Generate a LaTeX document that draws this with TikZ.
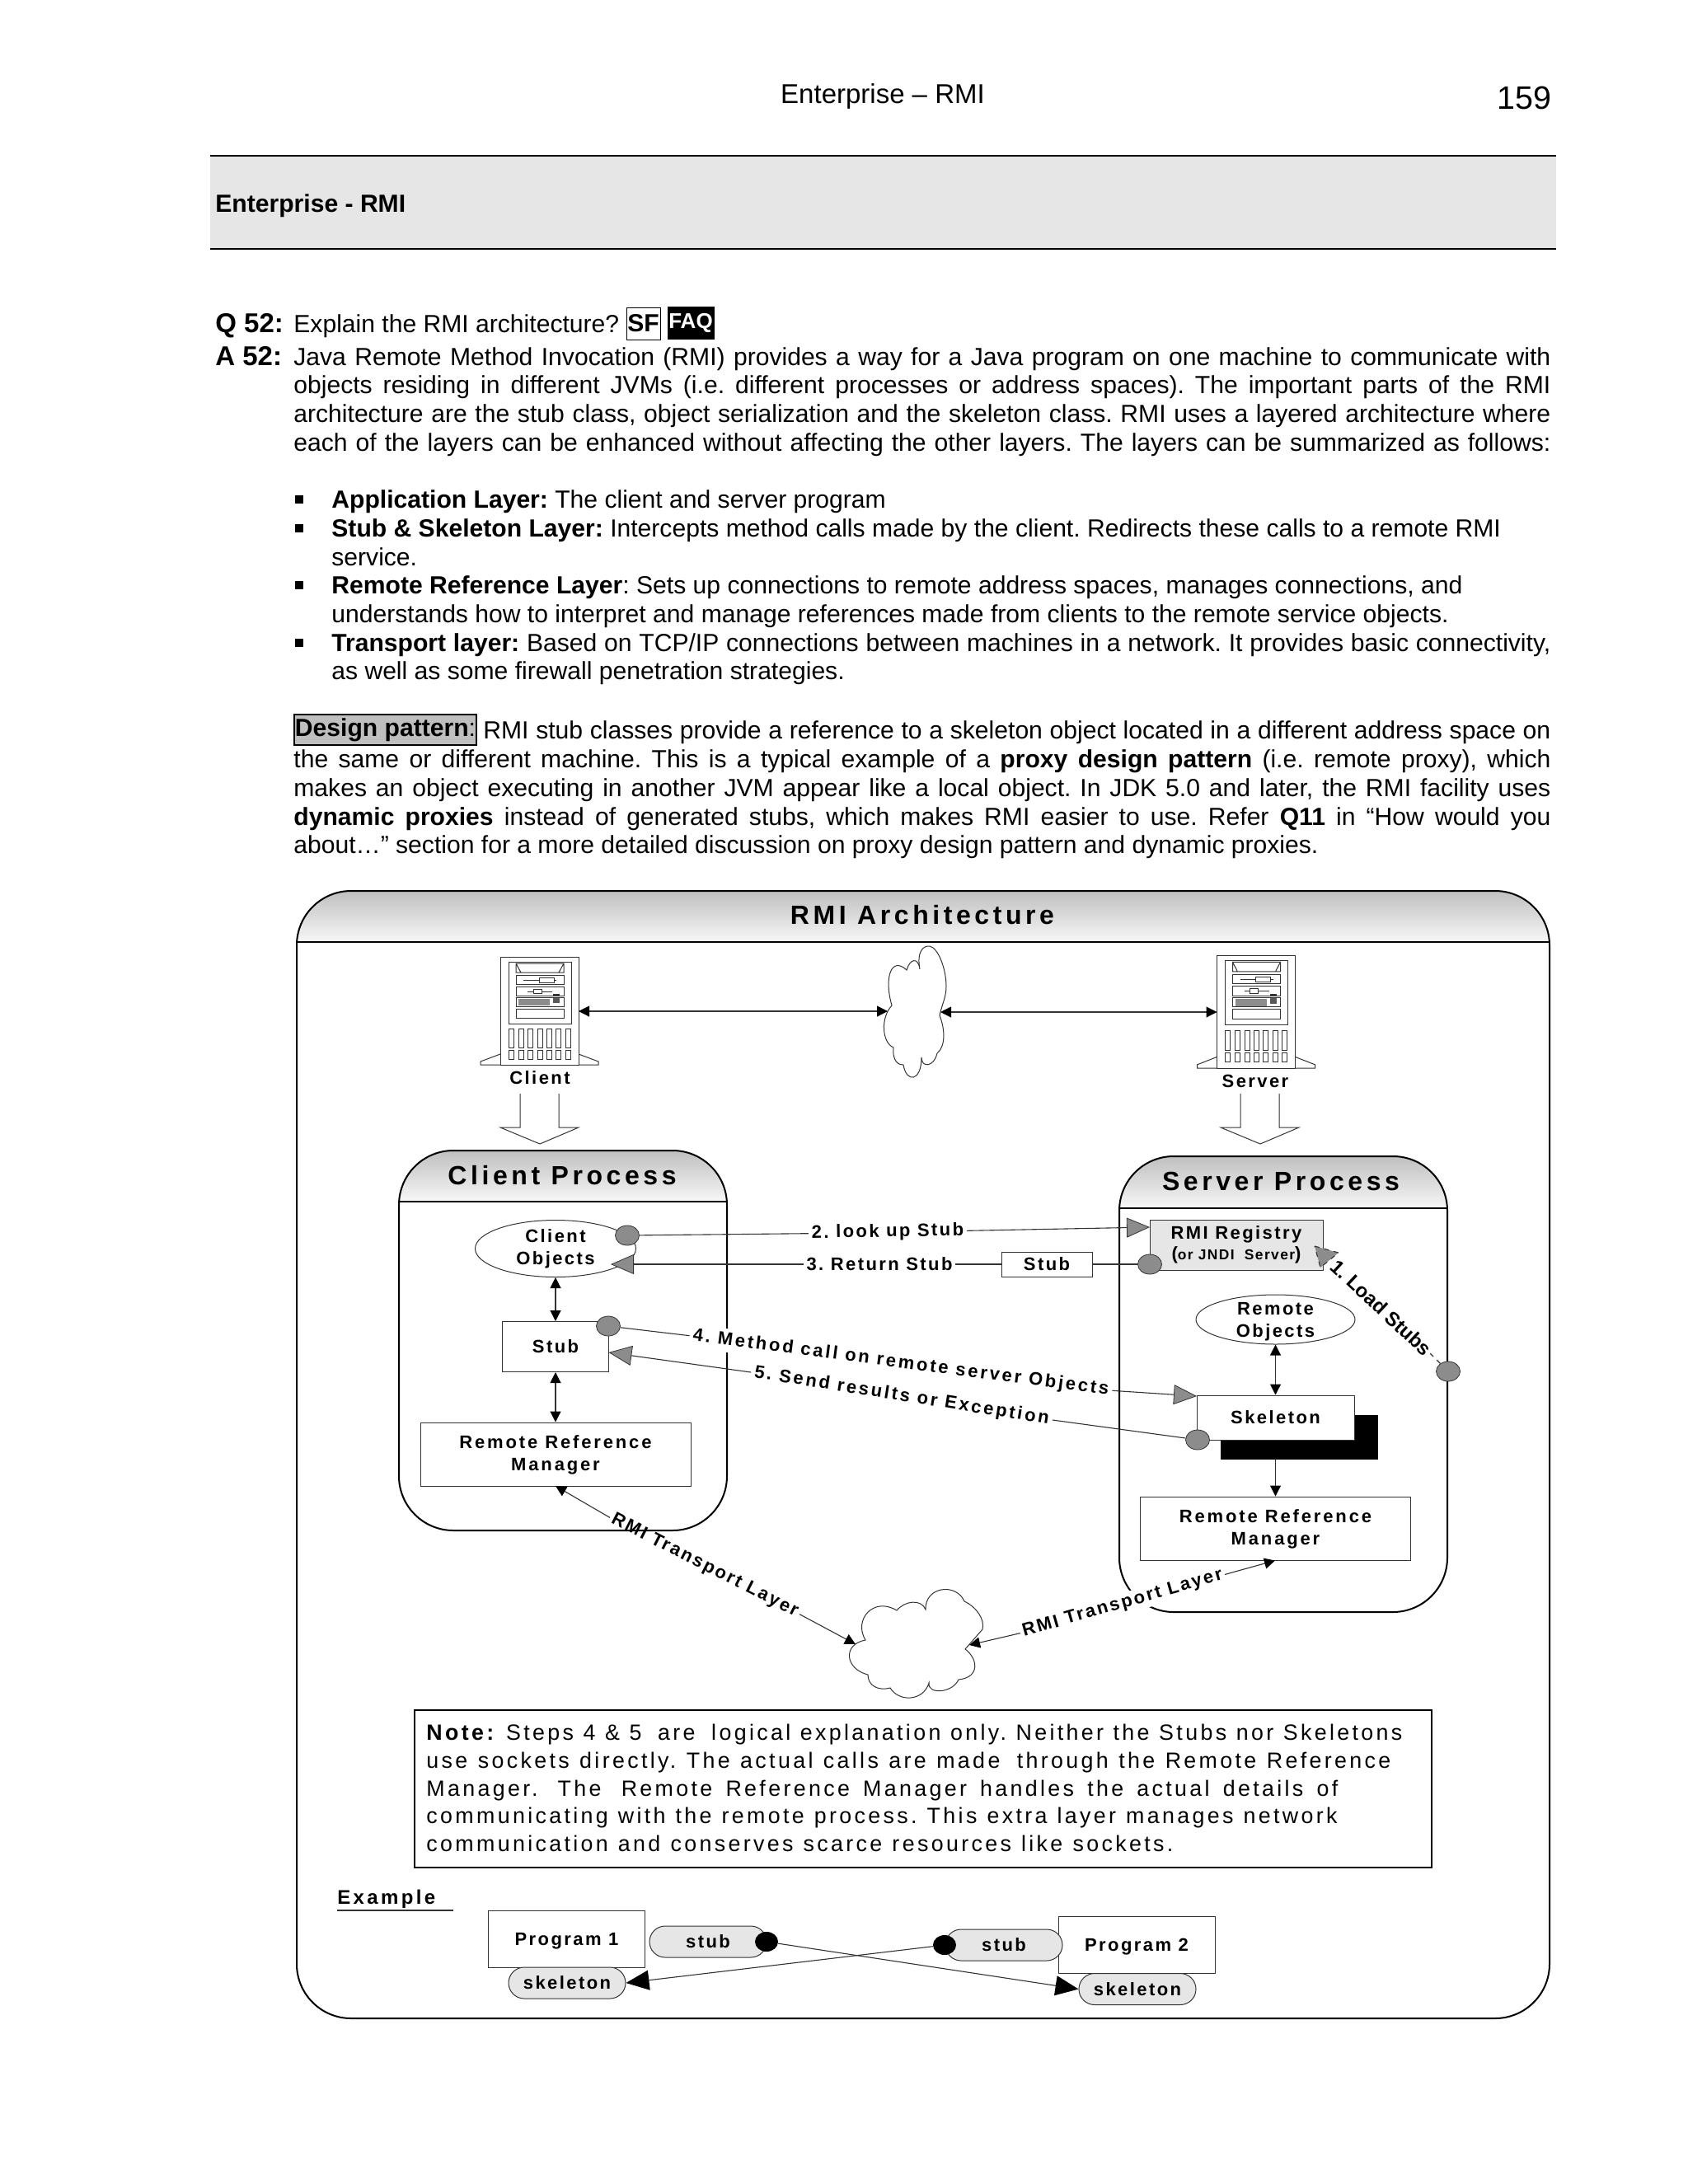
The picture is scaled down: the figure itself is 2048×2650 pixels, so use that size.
\documentclass[tikz,border=0pt]{standalone}
\usepackage{fontspec}
\usetikzlibrary{shapes.geometric,arrows.meta}
\setmainfont{Liberation Sans}
\newfontfamily\spA[LetterSpace=11]{Liberation Sans}
\newfontfamily\spB[LetterSpace=13]{Liberation Sans}
\newfontfamily\spC[LetterSpace=14.3]{Liberation Sans}
\newfontfamily\spD[LetterSpace=14]{Liberation Sans}
\newfontfamily\spN[LetterSpace=12.5]{Liberation Sans}
\newfontfamily\spS[LetterSpace=8]{Liberation Sans}
\definecolor{lgray}{HTML}{E6E6E6}
\definecolor{mgray}{HTML}{8C8C8C}
\definecolor{bgray}{HTML}{BFBFBF}
\definecolor{ink}{HTML}{333333}
\frenchspacing
\newcommand\bodyf{\fontsize{15.05}{17}\selectfont}
\newcommand\jl[4]{\node[anchor=base west,inner sep=0pt] (#1) at (#2,#3) {\bodyf\makebox[\dimexpr (1881pt-#2pt)/2\relax][s]{#4}};}
\newcommand\tl[4]{\node[anchor=base west,inner sep=0pt] (#1) at (#2,#3) {\bodyf #4};}
\newcommand\bul[2]{\node[fill=black,inner sep=0pt,minimum size=5pt] (#1) at (363,#2) {};}
\newcommand\nl[4]{\node[anchor=base west,inner sep=0pt,font=\spN\fontsize{13.4}{15}\selectfont] (#1) at (517,#2) {\makebox[#3pt][s]{#4}};}
\newcommand\cloudA{(1082,1220) .. controls (1072,1185) and (1082,1160) .. (1100,1177) .. controls (1104,1163) and (1114,1161) .. (1116,1176) .. controls (1112,1155) and (1120,1147) .. (1128,1148) .. controls (1138,1150) and (1148,1175) .. (1148,1197) .. controls (1148,1210) and (1143,1218) .. (1140,1232) .. controls (1147,1250) and (1147,1270) .. (1137,1278) .. controls (1133,1295) and (1118,1296) .. (1118,1283) .. controls (1118,1312) and (1100,1315) .. (1096,1292) .. controls (1085,1292) and (1083,1280) .. (1084,1271) .. controls (1070,1265) and (1068,1235) .. (1082,1220) -- cycle}
\newcommand\cloudB{(1050,1990) .. controls (1035,1965) and (1060,1937) .. (1088,1954) .. controls (1098,1942) and (1118,1940) .. (1123,1953) .. controls (1122,1925) and (1160,1920) .. (1170,1943) .. controls (1185,1950) and (1195,1965) .. (1192,1977) -- (1171,2001) .. controls (1186,2012) and (1190,2035) .. (1163,2038) .. controls (1155,2055) and (1125,2056) .. (1127,2042) .. controls (1120,2065) and (1090,2065) .. (1080,2048) .. controls (1065,2052) and (1053,2045) .. (1053,2032) .. controls (1025,2025) and (1022,1995) .. (1050,1990) -- cycle}
\newcommand\tower{%
  \draw[thin0,fill=white] (0,118) -- (-24,127) -- (-24,131) -- (119,131) -- (119,127) -- (95,118) -- cycle;
  \draw[thin0,fill=white] (0,0) rectangle (95,131);
  \draw[thin0] (10,6) rectangle (86,81);
  \draw[thin0] (19,8) rectangle (77,19) (19,8) -- (25,19) -- (71,19) -- (77,8);
  \draw[thin0] (19,22) rectangle (77,33) (28,28) -- (68,28);
  \draw[thin0,fill=white] (47,25) rectangle (65,31);
  \draw[thin0] (19,36) rectangle (77,47) (33,42) -- (63,42);
  \draw[thin0,fill=white] (40,39) rectangle (50,44);
  \fill[ink] (64,45) rectangle (72,47);
  \draw[thin0] (19,49) rectangle (77,60);
  \fill[black!45] (22,50.5) rectangle (60,59);
  \fill[black!65] (64,50) rectangle (72,56);
  \draw[thin0] (19,63) rectangle (77,74);
  \foreach \sx in {10.3,22,33.7,45.3,56,67.7,79}{
    \draw[thin0] (\sx,87) rectangle ++(6,23);
    \draw[thin0] (\sx,113) rectangle ++(6,11);
  }%
}
\tikzset{
  thin0/.style={line width=0.5pt,draw=ink},
  frame/.style={line width=1pt,draw=black},
  head/.style={top color=bgray,bottom color=black!3},
  conn/.style={line width=0.55pt,draw=ink},
  dbl/.style={conn,{Triangle[length=6.5pt,width=6.5pt,color=black]}-{Triangle[length=6.5pt,width=6.5pt,color=black]}},
  sgl/.style={conn,-{Triangle[length=6.5pt,width=6.5pt,color=black]}},
  gtip/.style={conn,-{Triangle[length=14pt,width=12pt,color=ink,fill=mgray,line width=0.4pt]}},
  bigtip/.style={conn,-{Triangle[length=14pt,width=12pt,color=black]}},
  lab/.style={inner sep=0pt,align=center,font=\spA\bfseries\fontsize{11}{13.5}\selectfont},
  labg/.style={lab,outer sep=2pt},
  labw/.style={inner sep=1.5pt,font=\spA\bfseries\fontsize{11}{13.5}\selectfont},
  labx/.style={inner sep=2pt,fill=white,font=\spB\bfseries\fontsize{11}{13.5}\selectfont},
  title/.style={inner sep=0pt,font=\spC\bfseries\fontsize{16}{19}\selectfont},
  boxa/.style={rectangle,thin0,fill=white,inner sep=0pt,align=center,font=\spA\bfseries\fontsize{11}{13.5}\selectfont},
  rrm/.style={boxa,font=\spB\bfseries\fontsize{11}{13.5}\selectfont,minimum width=164pt,minimum height=38.5pt},
  ell/.style={ellipse,thin0,fill=white,inner sep=0pt,align=center,font=\spA\bfseries\fontsize{11}{13.5}\selectfont},
  dot/.style={ellipse,fill=mgray,draw=ink,line width=0.4pt,inner sep=0pt,minimum width=14.5pt,minimum height=12pt},
  bdot/.style={ellipse,fill=black,inner sep=0pt,minimum width=14pt,minimum height=12pt},
  pill/.style={boxa,fill=lgray,rounded corners=9.5pt,minimum width=71pt,minimum height=19pt},
  prog/.style={boxa,text depth=0pt,minimum width=95pt,minimum height=34.5pt},
}
\begin{document}
\begin{tikzpicture}[x=0.5pt,y=-0.5pt]
\useasboundingbox (0,0) rectangle (2048,2650);
\fill[white] (0,0) rectangle (2048,2650);
% page heading
\node[inner sep=0pt,anchor=base] (hdr) at (1071,125) {\fontsize{16.5}{19}\selectfont Enterprise – RMI};
\node[inner sep=0pt,anchor=base east] (pgn) at (1883,132) {\fontsize{19.7}{23}\selectfont 159};
\fill[lgray] (255,189) rectangle (1888,302);
\draw[line width=0.6pt] (255,189) -- (1888,189) (255,302) -- (1888,302);
\node[inner sep=0pt,anchor=base west] (sect) at (261,257) {\bodyf\bfseries Enterprise - RMI};
% Q and A
\node[inner sep=0pt,anchor=base west] (q) at (261,403) {\fontsize{16.5}{19}\selectfont\bfseries Q 52:};
\tl{qt}{356}{403}{Explain the RMI architecture?}
\node[draw=black,line width=0.5pt,inner sep=0pt,minimum width=20.5pt,minimum height=19.5pt,font=\bodyf\bfseries] (sf) at (780.5,392.5) {SF};
\node[fill=black,text=white,inner sep=0pt,minimum width=28.5pt,minimum height=20pt,font=\fontsize{13}{15}\selectfont\bfseries] (faq) at (838,392) {FAQ};
\node[inner sep=0pt,anchor=base west] (a) at (261,443) {\fontsize{16.5}{19}\selectfont\bfseries A 52:};
\jl{a1}{356}{443}{Java Remote Method Invocation (RMI) provides a way for a Java program on one machine to communicate with}
\jl{a2}{356}{477}{objects residing in different JVMs (i.e. different processes or address spaces). The important parts of the RMI}
\jl{a3}{356}{512}{architecture are the stub class, object serialization and the skeleton class. RMI uses a layered architecture where}
\jl{a4}{356}{547}{each of the layers can be enhanced without affecting the other layers. The layers can be summarized as follows:}
% bullets
\bul{b1}{606}\bul{b2}{641}\bul{b3}{710}\bul{b4}{780}
\tl{u1}{402}{616}{\textbf{Application Layer:} The client and server program}
\tl{u2}{402}{651}{\textbf{Stub \& Skeleton Layer:} Intercepts method calls made by the client. Redirects these calls to a remote RMI}
\tl{u3}{402}{686}{service.}
\tl{u4}{402}{720}{\textbf{Remote Reference Layer}: Sets up connections to remote address spaces, manages connections, and}
\tl{u5}{402}{755}{understands how to interpret and manage references made from clients to the remote service objects.}
\jl{u6}{402}{790}{\textbf{Transport layer:} Based on TCP/IP connections between machines in a network. It provides basic connectivity,}
\tl{u7}{402}{824}{as well as some firewall penetration strategies.}
% design pattern
\node[draw=black,fill=bgray,line width=0.6pt,inner sep=0pt,minimum width=110.5pt,minimum height=18.5pt,font=\bodyf] (dp) at (467.5,885.5) {\textbf{Design pattern}:};
\jl{d1}{586}{896}{RMI stub classes provide a reference to a skeleton object located in a different address space on}
\jl{d2}{356}{931}{the same or different machine. This is a typical example of a \textbf{proxy design pattern} (i.e. remote proxy), which}
\jl{d3}{356}{966}{makes an object executing in another JVM appear like a local object. In JDK 5.0 and later, the RMI facility uses}
\jl{d4}{356}{1001}{\textbf{dynamic proxies} instead of generated stubs, which makes RMI easier to use. Refer \textbf{Q11} in “How would you}
\tl{d5}{356}{1035}{about…” section for a more detailed discussion on proxy design pattern and dynamic proxies.}
% outer frame
\shade[head] (360,1143) [rounded corners=32pt] -- (360,1081) -- (1880,1081) [sharp corners] -- (1880,1143) -- cycle;
\draw[frame,rounded corners=33pt] (360,1081) rectangle (1880,2449);
\draw[frame] (360,1143) -- (1880,1143);
\node[title] (ttl) at (1119,1110) {RMI Architecture};
% machines
\begin{scope}[shift={(607,1161)}]\tower\end{scope}
\begin{scope}[shift={(1476.5,1159)},yscale=1.046]\tower\end{scope}
\node[lab] (cl) at (655,1308) {Client};
\node[lab] (sv) at (1523,1312) {Server};
\draw[thin0,fill=white] (631,1327) -- (631,1368) -- (607,1368) -- (655,1388) -- (702,1368) -- (678,1368) -- (678,1327);
\draw[thin0,fill=white] (1505,1327) -- (1505,1368) -- (1481,1368) -- (1529,1388) -- (1576,1368) -- (1552,1368) -- (1552,1327);
\draw[thin0,fill=white] \cloudA;
\coordinate (towC) at (702,1227);
\coordinate (towS) at (1476.5,1228);
\coordinate (clL) at (1077,1227);
\coordinate (clR) at (1141,1228);
\draw[dbl] (towC) -- (clL);
\draw[dbl] (clR) -- (towS);
% client process
\shade[head] (484,1458) [rounded corners=32pt] -- (484,1396) -- (882,1396) [sharp corners] -- (882,1458) -- cycle;
\draw[frame,rounded corners=33pt] (484,1396) rectangle (882,1857);
\draw[frame] (484,1458) -- (882,1458);
\node[title] (tc) at (682,1426) {Client Process};
% server process
\shade[head] (1358,1466) [rounded corners=32pt] -- (1358,1403) -- (1756,1403) [sharp corners] -- (1756,1466) -- cycle;
\draw[frame,rounded corners=33pt] (1358,1403) rectangle (1756,1956);
\draw[frame] (1358,1466) -- (1756,1466);
\node[title] (ts) at (1554,1433) {Server Process};
% client boxes
\node[ell,minimum width=97.5pt,minimum height=34.5pt] (cobj) at (674,1515) {\rule{0pt}{3pt}Client\\Objects};
\node[boxa,minimum width=64.5pt,minimum height=30.5pt] (cstub) at (674,1634) {Stub};
\node[rrm,text depth=1pt] (rrmc) at (674,1764.5) {Remote Reference\\Manager};
\draw[dbl] (cobj.south) -- (cstub.north);
\draw[dbl] (cstub.south) -- (rrmc.north);
% server boxes
\node[boxa,fill=lgray,minimum width=105pt,minimum height=30.5pt] (reg) at (1500,1510.5) {RMI Registry\\[-1pt]{\fontsize{11}{13}\selectfont(}{\spS\fontsize{8.7}{13}\selectfont or JNDI\hspace{3pt} Server}{\fontsize{11}{13}\selectfont)}};
\node[ell,text depth=0pt,minimum width=96.5pt,minimum height=30pt] (robj) at (1547.5,1601) {Remote\\Objects};
\node[fill=black,inner sep=0pt,minimum width=95.5pt,minimum height=27pt] (shad) at (1576,1744) {};
\node[boxa,minimum width=95.5pt,minimum height=27pt] (skel) at (1547.5,1720) {Skeleton};
\node[rrm,text depth=1pt] (rrms) at (1547.5,1854.5) {Remote Reference\\Manager};
\draw[dbl] (robj.south) -- (skel.north);
\draw[sgl] (shad.south -| rrms.north) -- (rrms.north);
\node[boxa,minimum width=55pt,minimum height=15pt] (wstub) at (1270,1534) {Stub};
% dots
\node[dot] (d2) at (761,1499) {};
\node[dot] (d3) at (1395,1534) {};
\node[dot] (d4) at (738,1609) {};
\node[dot] (d5) at (1453,1747) {};
\node[dot] (d1) at (1757,1664) {};
% labels
\node[labg,rotate=1] (l2) at (1077,1495) {2. look up Stub};
\node[labg] (l3) at (1067,1534) {3. Return Stub};
\node[labx,rotate=-7.4] (l4) at (1093,1654) {4. Method call on remote server Objects};
\node[labx,rotate=-9] (l5) at (1094,1694) {5. Send results or Exception};
\node[labw,rotate=-27] (lt1) at (855,1900) {RMI Transport Layer};
\node[labw,fill=white,rotate=16] (lt2) at (1362,1946) {RMI Transport Layer};
\node[inner sep=1pt,fill=white,rotate=-43,font=\fontsize{12}{15}\bfseries\selectfont] (l1) at (1676,1587) {1. Load Stubs};
% targets
\coordinate (t2) at (1395,1489);
\coordinate (t3) at (741,1534);
\coordinate (t4) at (1452,1694);
\coordinate (t5) at (738.5,1641);
\draw[conn] (d2) -- (l2.west);
\draw[gtip] (l2.east) -- (t2);
\draw[conn] (d3) -- (wstub.east);
\draw[conn] (wstub.west) -- (l3.east);
\draw[gtip] (l3.west) -- (t3);
\draw[conn] (d4) -- (l4.west);
\draw[gtip] (l4.east) -- (t4);
\draw[conn] (d5) -- (l5.east);
\draw[gtip] (l5.west) -- (t5);
\draw[conn,dashed] (d1) -- (l1.east);
\draw[conn,dashed,fill=mgray] (1595,1512) -- (1624,1520) -- (1602,1538) -- cycle;
% cloud and transport
\draw[thin0,fill=white] \cloudB;
\coordinate (rl) at (674,1803);
\coordinate (rr) at (1547,1893.5);
\coordinate (c1) at (1038,1995);
\coordinate (c2) at (1176,1996);
\draw[sgl] (lt1.west) -- (rl);
\draw[sgl] (lt1.east) -- (c1);
\draw[sgl] (lt2.west) -- (c2);
\draw[sgl] (lt2.east) -- (rr);
% note
\node[draw=black,line width=1pt,inner sep=0pt,minimum width=617pt,minimum height=95.5pt] (nb) at (1120,2170.5) {};
\nl{n1}{2111}{592}{\textbf{Note:} Steps 4 \& 5\hspace{4pt} are\hspace{4pt} logical explanation only. Neither the Stubs nor Skeletons}
\nl{n2}{2145}{585}{use sockets directly. The actual calls are made\hspace{4pt} through the Remote Reference}
\nl{n3}{2179}{553}{Manager.\hspace{4pt} The\hspace{4pt} Remote Reference Manager handles the actual details of}
\nl{n4}{2212}{552.6}{communicating with the remote process. This extra layer manages network}
\nl{n5}{2246}{453}{communication and conserves scarce resources like sockets.}
% example
\node[inner sep=0pt,font=\spD\bfseries\fontsize{12}{13.5}\selectfont,anchor=base west] (ex) at (409,2310) {Example};
\coordinate (exa) at (409,2318);
\coordinate (exb) at (550,2318);
\draw[conn] (exa) -- (exb);
\node[prog] (p1) at (687.5,2352.5) {Program 1};
\node[prog] (p2) at (1379,2359.5) {Program 2};
\node[pill] (s1) at (859,2356) {stub};
\node[pill] (s2) at (1218,2360) {stub};
\node[pill] (k1) at (688,2406) {skeleton};
\node[pill] (k2) at (1380,2413.5) {skeleton};
\node[bdot] (o1) at (930,2356) {};
\node[bdot] (o2) at (1146,2360) {};
\draw[bigtip] (o1) -- (k2.west);
\draw[bigtip] (o2) -- (k1.east);
\end{tikzpicture}
\end{document}
